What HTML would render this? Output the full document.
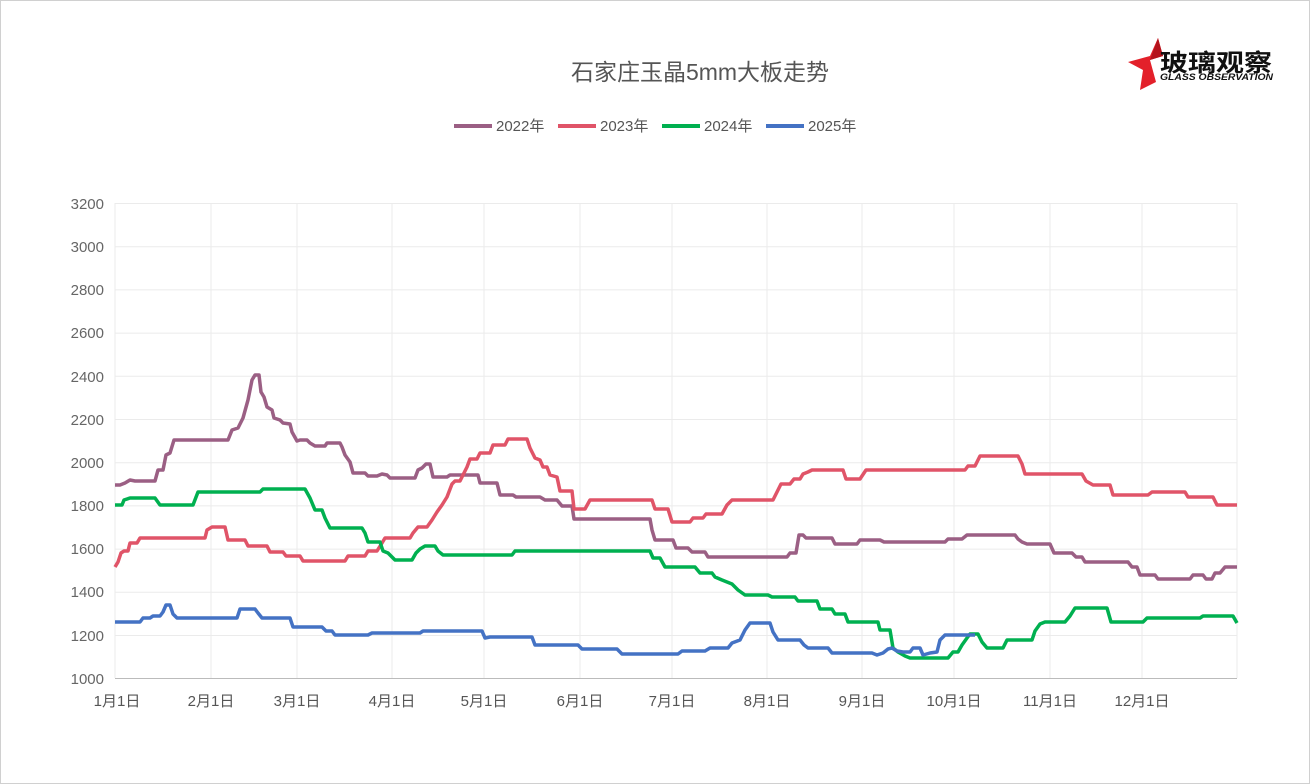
<!DOCTYPE html>
<html><head><meta charset="utf-8"><style>
body{margin:0;background:#fff;}
svg{display:block;font-family:"Liberation Sans","Noto Sans CJK SC",sans-serif;}
</style></head><body>
<svg width="1310" height="784" xmlns="http://www.w3.org/2000/svg">
<rect x="0.5" y="0.5" width="1309" height="783" fill="#fff" stroke="#d0d0d0"/>
<text x="700" y="80" font-size="23" fill="#555" text-anchor="middle">石家庄玉晶5mm大板走势</text>
<g>
<polygon points="1158,38 1163,56 1150,60 1156,82 1140,90 1143,70 1128,62 1150,56" fill="#e3202a"/>
<polygon points="1158,38 1163,56 1150,60" fill="#b5131c"/>
<text x="1160" y="71" font-size="24" font-weight="bold" fill="#111" textLength="112" lengthAdjust="spacingAndGlyphs">玻璃观察</text>
<text x="1160" y="80" font-size="9" font-style="italic" font-weight="bold" fill="#111" textLength="113" lengthAdjust="spacingAndGlyphs">GLASS OBSERVATION</text>
</g>
<g font-size="15" fill="#555">
<line x1="454" y1="126" x2="492" y2="126" stroke="#9b5f84" stroke-width="4"/><text x="496" y="131">2022年</text>
<line x1="558" y1="126" x2="596" y2="126" stroke="#e05468" stroke-width="4"/><text x="600" y="131">2023年</text>
<line x1="662" y1="126" x2="700" y2="126" stroke="#00b050" stroke-width="4"/><text x="704" y="131">2024年</text>
<line x1="766" y1="126" x2="804" y2="126" stroke="#4472c4" stroke-width="4"/><text x="808" y="131">2025年</text>
</g>
<g stroke="#ebebeb" stroke-width="1">
<line x1="115" y1="203.5" x2="1237" y2="203.5"/><line x1="115" y1="246.7" x2="1237" y2="246.7"/>
<line x1="115" y1="289.9" x2="1237" y2="289.9"/><line x1="115" y1="333.1" x2="1237" y2="333.1"/>
<line x1="115" y1="376.3" x2="1237" y2="376.3"/><line x1="115" y1="419.5" x2="1237" y2="419.5"/>
<line x1="115" y1="462.7" x2="1237" y2="462.7"/><line x1="115" y1="505.9" x2="1237" y2="505.9"/>
<line x1="115" y1="549.1" x2="1237" y2="549.1"/><line x1="115" y1="592.3" x2="1237" y2="592.3"/>
<line x1="115" y1="635.5" x2="1237" y2="635.5"/>
<line x1="211" y1="203" x2="211" y2="678"/><line x1="297" y1="203" x2="297" y2="678"/>
<line x1="392" y1="203" x2="392" y2="678"/><line x1="484" y1="203" x2="484" y2="678"/>
<line x1="580" y1="203" x2="580" y2="678"/><line x1="672" y1="203" x2="672" y2="678"/>
<line x1="767" y1="203" x2="767" y2="678"/><line x1="862" y1="203" x2="862" y2="678"/>
<line x1="954" y1="203" x2="954" y2="678"/><line x1="1050" y1="203" x2="1050" y2="678"/>
<line x1="1142" y1="203" x2="1142" y2="678"/><line x1="1237" y1="203" x2="1237" y2="678"/>
<line x1="115" y1="203" x2="115" y2="678"/>
</g>
<line x1="115" y1="678.5" x2="1237" y2="678.5" stroke="#bbb"/>
<g font-size="15" fill="#666" text-anchor="end">
<text x="104" y="209">3200</text><text x="104" y="252">3000</text><text x="104" y="295">2800</text>
<text x="104" y="338">2600</text><text x="104" y="382">2400</text><text x="104" y="425">2200</text>
<text x="104" y="468">2000</text><text x="104" y="511">1800</text><text x="104" y="554">1600</text>
<text x="104" y="597">1400</text><text x="104" y="641">1200</text><text x="104" y="684">1000</text>
</g>
<g font-size="15" fill="#555" text-anchor="middle">
<text x="117" y="706">1月1日</text><text x="211" y="706">2月1日</text><text x="297" y="706">3月1日</text>
<text x="392" y="706">4月1日</text><text x="484" y="706">5月1日</text><text x="580" y="706">6月1日</text>
<text x="672" y="706">7月1日</text><text x="767" y="706">8月1日</text><text x="862" y="706">9月1日</text>
<text x="954" y="706">10月1日</text><text x="1050" y="706">11月1日</text><text x="1142" y="706">12月1日</text>
</g>
<g fill="none" stroke-width="3.5" stroke-linejoin="round">
<polyline stroke="#9b5f84" points="115,485 120,485 125,483 130,480 135,481 155,481 158,470 163,470 166,455 170,453 174,440 200,440 228,440 232,430 238,428 243,418 248,400 252,380 255,375 259,375 261,392 264,397 267,407 272,410 274,418 280,420 283,423 290,424 292,432 297,441 300,440 307,440 310,443 315,446 325,446 327,443 340,443 342,447 345,455 350,462 353,473 365,473 368,476 377,476 382,474 387,475 390,478 415,478 418,470 422,468 426,464 430,464 433,477 447,477 450,475 478,475 480,483 497,483 500,495 513,495 516,497 540,497 545,500 557,500 562,506 572,506 574,519 650,519 652,530 655,540 673,540 676,548 688,548 692,552 705,552 708,557 787,557 790,553 796,553 799,535 803,535 806,538 832,538 835,544 857,544 860,540 880,540 884,542 945,542 948,539 962,539 967,535 1015,535 1018,539 1022,542 1027,544 1050,544 1054,553 1072,553 1076,557 1082,557 1085,562 1128,562 1132,567 1137,567 1140,575 1155,575 1158,579 1190,579 1193,575 1203,575 1206,579 1212,579 1215,573 1220,573 1225,567 1237,567"/>
<polyline stroke="#e05468" points="115,567 118,562 121,553 124,551 128,551 130,543 137,543 140,538 205,538 207,530 212,527 225,527 228,540 245,540 248,546 267,546 270,552 283,552 286,556 300,556 303,561 345,561 348,556 365,556 368,551 377,551 382,543 385,538 410,538 413,533 418,527 427,527 432,520 437,512 442,505 447,497 452,484 455,481 460,481 463,475 467,467 470,459 477,459 480,453 490,453 493,445 505,445 508,439 527,439 530,448 535,458 540,460 543,467 547,467 550,475 557,477 560,491 572,491 574,509 585,509 590,500 652,500 655,509 668,509 672,522 690,522 693,518 703,518 706,514 722,514 727,505 732,500 773,500 777,492 781,484 790,484 794,479 800,479 803,474 808,472 812,470 843,470 846,479 860,479 866,470 965,470 968,466 975,466 980,456 1018,456 1022,464 1025,474 1082,474 1086,481 1093,485 1110,485 1113,495 1148,495 1152,492 1185,492 1188,497 1213,497 1217,505 1237,505"/>
<polyline stroke="#00b050" points="115,505 122,505 124,500 130,498 155,498 160,505 193,505 198,492 260,492 263,489 305,489 310,498 315,510 322,510 325,518 330,528 362,528 365,533 368,542 380,542 383,551 388,553 392,557 395,560 412,560 416,553 420,549 425,546 435,546 438,551 443,555 512,555 515,551 650,551 653,558 660,558 665,567 695,567 700,573 712,573 715,577 722,580 732,584 738,590 745,595 768,595 772,597 795,597 798,601 817,601 820,609 832,609 835,614 845,614 848,622 878,622 880,630 890,630 893,648 898,652 905,656 910,658 948,658 953,652 958,652 962,645 967,638 970,634 978,634 982,642 987,648 1003,648 1007,640 1032,640 1035,631 1040,624 1045,622 1065,622 1070,616 1075,608 1107,608 1111,622 1143,622 1147,618 1200,618 1203,616 1233,616 1237,623"/>
<polyline stroke="#4472c4" points="115,622 140,622 143,618 150,618 153,616 160,616 163,612 166,605 170,605 173,614 177,618 237,618 240,609 255,609 258,613 262,618 290,618 293,627 322,627 326,631 332,631 335,635 368,635 372,633 420,633 423,631 482,631 485,638 490,637 532,637 535,645 578,645 582,649 617,649 622,654 678,654 682,651 705,651 710,648 728,648 732,643 740,640 745,630 750,623 770,623 773,632 778,640 800,640 804,645 808,648 828,648 832,653 872,653 877,655 883,653 888,649 892,648 897,651 903,652 910,652 913,648 920,648 923,655 930,653 937,652 940,640 945,635 975,635"/>
</g>
</svg>
</body></html>
